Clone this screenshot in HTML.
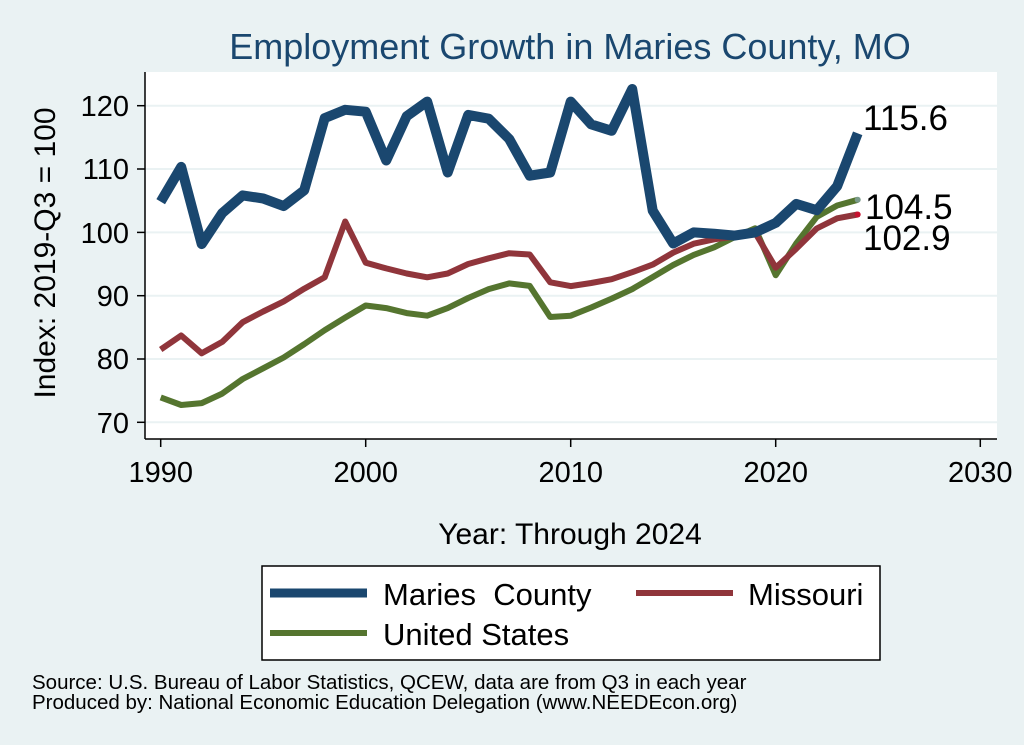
<!DOCTYPE html>
<html><head><style>
html,body{margin:0;padding:0;background:#eaf2f3;}
svg{display:block;font-family:"Liberation Sans",Arial,sans-serif;}
</style></head><body>
<svg width="1024" height="745" viewBox="0 0 1024 745" xmlns="http://www.w3.org/2000/svg">
<rect width="1024" height="745" fill="#eaf2f3"/>
<text x="570" y="59" font-size="36" fill="#1a476f" text-anchor="middle">Employment Growth in Maries County, MO</text>
<rect x="145" y="72" width="852" height="367" fill="#ffffff"/>
<g stroke="#eaf2f3" stroke-width="2">
<line x1="145" x2="997" y1="105.7" y2="105.7"/>
<line x1="145" x2="997" y1="169" y2="169"/>
<line x1="145" x2="997" y1="232.4" y2="232.4"/>
<line x1="145" x2="997" y1="295.7" y2="295.7"/>
<line x1="145" x2="997" y1="359" y2="359"/>
<line x1="145" x2="997" y1="422.3" y2="422.3"/>
</g>
<g stroke="#000" stroke-width="1.5">
<line x1="145" x2="145" y1="72" y2="439"/>
<line x1="145" x2="997" y1="439" y2="439"/>
<line x1="137" x2="145" y1="105.7" y2="105.7"/>
<line x1="137" x2="145" y1="169" y2="169"/>
<line x1="137" x2="145" y1="232.4" y2="232.4"/>
<line x1="137" x2="145" y1="295.7" y2="295.7"/>
<line x1="137" x2="145" y1="359" y2="359"/>
<line x1="137" x2="145" y1="422.3" y2="422.3"/>
<line x1="160.7" x2="160.7" y1="439" y2="447"/>
<line x1="365.7" x2="365.7" y1="439" y2="447"/>
<line x1="570.7" x2="570.7" y1="439" y2="447"/>
<line x1="775.7" x2="775.7" y1="439" y2="447"/>
<line x1="980.3" x2="980.3" y1="439" y2="447"/>
</g>
<g font-size="29" fill="#000" text-anchor="end">
<text x="129" y="116">120</text>
<text x="129" y="179">110</text>
<text x="129" y="243">100</text>
<text x="129" y="306">90</text>
<text x="129" y="369">80</text>
<text x="129" y="433">70</text>
</g>
<g font-size="29" fill="#000" text-anchor="middle">
<text x="160.7" y="482">1990</text>
<text x="365.7" y="482">2000</text>
<text x="570.7" y="482">2010</text>
<text x="775.7" y="482">2020</text>
<text x="980.3" y="482">2030</text>
</g>
<text transform="translate(55,253) rotate(-90)" font-size="30" text-anchor="middle">Index: 2019-Q3 = 100</text>
<text x="570" y="544" font-size="30" text-anchor="middle">Year: Through 2024</text>
<g fill="none" stroke-linejoin="round">
<polyline stroke="#55752f" stroke-width="6" points="160.7,397.4 181.2,405.0 201.7,403.1 222.2,393.6 242.7,379.0 263.2,368.3 283.7,357.5 304.2,344.2 324.7,330.2 345.2,317.6 365.7,305.5 386.2,308.1 406.7,313.1 427.2,315.7 447.7,308.1 468.2,298.0 488.7,289.1 509.2,283.4 529.7,285.9 550.2,317.0 570.7,315.7 591.2,307.5 611.7,298.6 632.2,289.1 652.7,277.1 673.2,265.0 693.7,254.9 714.2,247.3 734.7,237.1 755.2,228.3 775.7,275.2 796.2,243.5 816.7,216.9 837.2,205.5 857.7,199.8"/>
<polyline stroke="#90353b" stroke-width="6" points="160.7,349.5 181.2,335.5 201.7,353.3 222.2,341.9 242.7,322.2 263.2,311.5 283.7,301.4 304.2,288.7 324.7,277.3 345.2,221.5 365.7,262.7 386.2,268.4 406.7,273.5 427.2,277.3 447.7,273.5 468.2,264.0 488.7,258.3 509.2,253.2 529.7,254.5 550.2,282.3 570.7,286.1 591.2,283.0 611.7,279.2 632.2,272.2 652.7,264.6 673.2,252.6 693.7,243.7 714.2,239.3 734.7,236.7 755.2,232.9 775.7,267.7 796.2,248.8 816.7,228.5 837.2,218.3 857.7,214.5"/>
<polyline stroke="#1a476f" stroke-width="10" points="160.7,201.7 181.2,166.9 201.7,244.1 222.2,213.1 242.7,195.4 263.2,198.5 283.7,206.1 304.2,190.3 324.7,118.1 345.2,109.8 365.7,111.7 386.2,160.5 406.7,116.2 427.2,101.6 447.7,172.5 468.2,114.9 488.7,118.7 509.2,139.0 529.7,175.7 550.2,172.5 570.7,101.6 591.2,124.4 611.7,130.8 632.2,89.0 652.7,210.6 673.2,243.5 693.7,232.4 714.2,233.7 734.7,235.6 755.2,232.4 775.7,222.9 796.2,203.9 816.7,210.2 837.2,186.1 857.7,133.3"/>
</g>
<circle cx="857.7" cy="199.8" r="3" fill="#7a9a8a"/>
<circle cx="857.7" cy="214.5" r="3" fill="#c8102e"/>
<g font-size="35" fill="#000">
<text x="863" y="130">115.6</text>
<text x="865" y="219">104.5</text>
<text x="863" y="250">102.9</text>
</g>
<rect x="262" y="566" width="618" height="94" fill="#fff" stroke="#000" stroke-width="1.5"/>
<line x1="270" x2="367" y1="593" y2="593" stroke="#1a476f" stroke-width="9"/>
<line x1="636" x2="733" y1="593" y2="593" stroke="#90353b" stroke-width="6"/>
<line x1="270" x2="367" y1="633" y2="633" stroke="#55752f" stroke-width="6"/>
<g font-size="31" fill="#000">
<text x="383" y="605" xml:space="preserve">Maries  County</text>
<text x="748" y="605">Missouri</text>
<text x="383" y="645">United States</text>
</g>
<g font-size="20.5" fill="#000">
<text x="32" y="689">Source: U.S. Bureau of Labor Statistics, QCEW, data are from Q3 in each year</text>
<text x="32" y="709">Produced by: National Economic Education Delegation (www.NEEDEcon.org)</text>
</g>
</svg>
</body></html>
